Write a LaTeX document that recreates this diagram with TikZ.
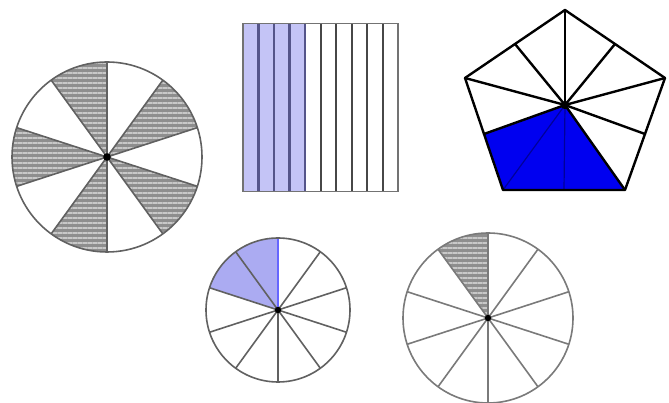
\documentclass[tikz,border=0pt]{standalone}
\usetikzlibrary{calc,patterns.meta}
\definecolor{hatchbg}{HTML}{8E8E8E}
\definecolor{hatchln}{HTML}{C8C8C8}
\definecolor{lav}{HTML}{C4C4F6}
\definecolor{lavdark}{HTML}{ABABF2}
\definecolor{navy}{HTML}{55558A}
\definecolor{pblue}{HTML}{0000F0}
\tikzset{
  circline/.style={draw=black!62, line width=1.6pt},
  hatch/.style={fill=hatchbg, postaction={pattern={Lines[angle=0,distance=5pt,line width=1.6pt]}, pattern color=hatchln}},
  pentline/.style={draw=black, line width=2.4pt, line join=round},
  cdot/.style={fill=black},
}
\begin{document}
\begin{tikzpicture}[x=1pt,y=1pt]
\useasboundingbox (0,0) rectangle (669,403);
\fill[white] (0,0) rectangle (669,403);

% ---------- big hatched circle ----------
\coordinate (c1) at (107,246);
\def\rA{95}
\foreach \a in {90,162,234,306,18}{
  \path[hatch] (c1) -- ++(\a:\rA) arc[start angle=\a, end angle=\a+36, radius=\rA] -- cycle;
}
\foreach \a in {18,54,...,342}{
  \draw[circline] (c1) -- ++(\a:\rA);
}
\draw[circline] (c1) circle[radius=\rA];
\fill[cdot] (c1) circle[radius=3.8];

% ---------- rectangle with strips ----------
\coordinate (r0) at (243,211.5);
\coordinate (r1) at (398,379.5);
\fill[lav] (243,211.5) rectangle (305,379.5);
\foreach \i in {1,...,9}{
  \pgfmathsetmacro{\xx}{243+\i*15.5}
  \ifnum\i<5
    \draw[navy, line width=2.2pt] (\xx,211.5) -- (\xx,379.5);
  \else
    \draw[black!72, line width=2pt] (\xx,211.5) -- (\xx,379.5);
  \fi
}
\draw[black!55, line width=1.6pt] (r0) rectangle (r1);

% ---------- pentagon ----------
\coordinate (pc) at (565,298);
\coordinate (pT) at (565,393);
\coordinate (pL) at (465,325);
\coordinate (pR) at (665,325);
\coordinate (pBL) at (503,213);
\coordinate (pBR) at (625,213);
\coordinate (mTL) at ($(pT)!0.5!(pL)$);
\coordinate (mTR) at ($(pT)!0.5!(pR)$);
\coordinate (mL) at ($(pL)!0.5!(pBL)$);
\coordinate (mR) at ($(pR)!0.5!(pBR)$);
\coordinate (mB) at ($(pBL)!0.5!(pBR)$);
\fill[pblue] (pc) -- (mL) -- (pBL) -- (pBR) -- cycle;
\foreach \p in {pT,pL,pR,mTL,mTR,mR}{
  \draw[pentline] (pc) -- (\p);
}
\foreach \p in {pBL,mB}{
  \draw[draw=blue!60!black, line width=1.2pt] (pc) -- (\p);
}
\draw[pentline] (pT) -- (pR) -- (pBR) -- (pBL) -- (pL) -- cycle;
\draw[pentline] (mL) -- (pc) -- (pBR);
\fill[cdot] (pc) circle[radius=4.2];

% ---------- small circle with lavender ----------
\coordinate (c2) at (278,93);
\def\rB{72}
\fill[lavdark] (c2) -- ++(90:\rB) arc[start angle=90, end angle=162, radius=\rB] -- cycle;
\foreach \a in {18,54,...,342}{
  \draw[circline] (c2) -- ++(\a:\rB);
}
\draw[blue!60, line width=1.6pt] (c2) -- ++(90:\rB);
\draw[circline] (c2) circle[radius=\rB];
\fill[cdot] (c2) circle[radius=3.2];

% ---------- small circle with one hatched tenth ----------
\coordinate (c3) at (488,85);
\def\rC{85}
\path[hatch] (c3) -- ++(90:\rC) arc[start angle=90, end angle=126, radius=\rC] -- cycle;
\foreach \a in {18,54,...,342}{
  \draw[circline, draw=black!52] (c3) -- ++(\a:\rC);
}
\draw[circline, draw=black!52] (c3) circle[radius=\rC];
\fill[cdot] (c3) circle[radius=3.2];
\end{tikzpicture}
\end{document}
